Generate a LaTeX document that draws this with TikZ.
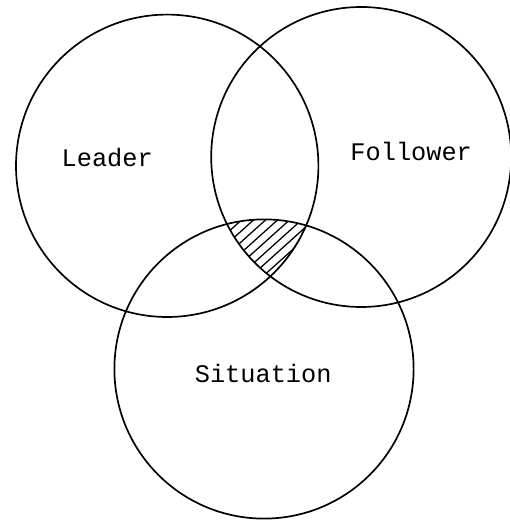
\documentclass[tikz,border=0pt]{standalone}
\usepackage{fontspec}
\setmonofont{Liberation Mono}
\usepackage{tikz}

\begin{document}
\begin{tikzpicture}[every node/.style={font=\ttfamily\fontsize{18}{20}\selectfont}, ring/.style={line width=1.2pt}]
	\useasboundingbox (0,0) rectangle (12.725,13.025);
	% the three circles
	\draw[ring] (4.18,8.88) circle (3.78);
	\draw[ring] (9.03,9.10) circle (3.75);
	\draw[ring] (6.60,3.80) circle (3.74);
	% hatched common part
	\begin{scope}
		\clip (4.18,8.88) circle (3.78);
		\clip (9.03,9.10) circle (3.75);
		\clip (6.60,3.80) circle (3.74);
		\foreach \y in {2.0,2.27,...,7.0}
			\draw[line width=0.9pt] (5.0,\y) -- ++(42:4);
	\end{scope}
	\node (leader) at (2.68,9.08) {Leader};
	\node (follower) at (10.28,9.25) {Follower};
	\node (situation) at (6.58,3.70) {Situation};
\end{tikzpicture}
\end{document}
